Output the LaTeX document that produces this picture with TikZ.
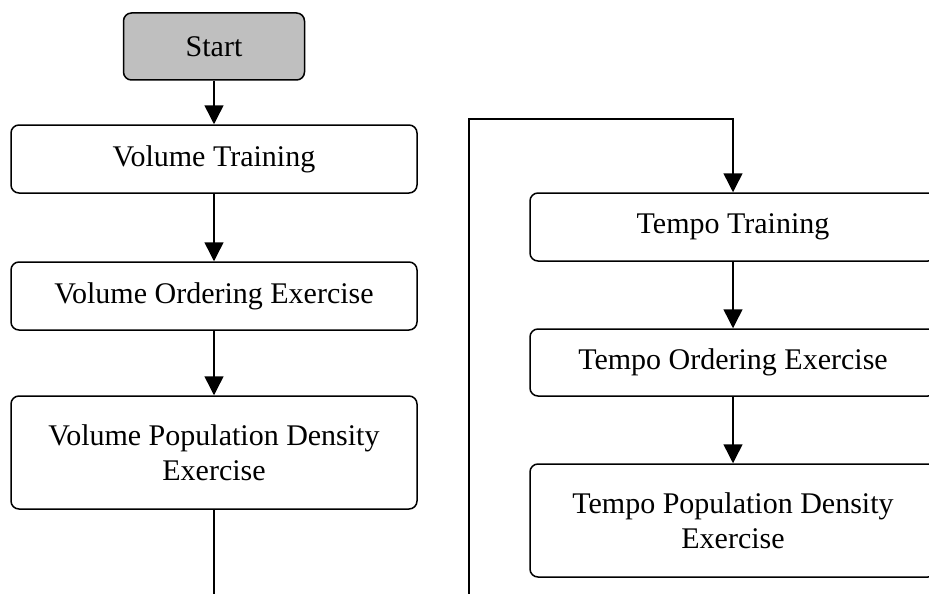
\documentclass[tikz,border=0pt]{standalone}
\usepackage{fontspec}
\setmainfont{Liberation Serif}
\usetikzlibrary{arrows.meta,positioning}
\begin{document}
\begin{tikzpicture}[x=1pt,y=-1pt,
  box/.style={draw=black,line width=1.5pt,rounded corners=8pt,fill=white,
    minimum width=406pt,align=center,font=\fontsize{30}{35}\selectfont,inner sep=0pt},
  startbox/.style={box,fill=black!25,minimum width=181pt,minimum height=67pt},
  conn/.style={line width=1.5pt,-{Triangle[length=19pt,width=19pt]}},
  plain/.style={line width=1.5pt}]
\useasboundingbox (0,0) rectangle (929,594);
\clip (0,0) rectangle (929,594);
\node[startbox] (start) at (214,46.5) {\raisebox{-3pt}{Start}};
\node[box,minimum height=68pt] (vt) at (214,159) {\raisebox{-2pt}{Volume Training}};
\node[box,minimum height=68pt] (vo) at (214,296) {\raisebox{-2pt}{Volume Ordering Exercise}};
\node[box,minimum height=113pt] (vpd) at (214,452.5) {Volume Population Density\\Exercise};
\node[box,minimum height=68pt] (tt) at (733,227) {\raisebox{-2pt}{Tempo Training}};
\node[box,minimum height=67pt] (to) at (733,362.5) {\raisebox{-2pt}{Tempo Ordering Exercise}};
\node[box,minimum height=113pt] (tpd) at (733,520.5) {Tempo Population Density\\Exercise};
\coordinate (vend) at (214,600);
\coordinate (tbeg) at (469,600);
\coordinate (ttop) at (469,119);
\draw[conn] (start.south) -- (vt.north);
\draw[conn] (vt.south) -- (vo.north);
\draw[conn] (vo.south) -- (vpd.north);
\draw[plain] (vpd.south) -- (vend);
\draw[conn] (tbeg) -- (ttop) -| (tt.north);
\draw[conn] (tt.south) -- (to.north);
\draw[conn] (to.south) -- (tpd.north);
\end{tikzpicture}
\end{document}
